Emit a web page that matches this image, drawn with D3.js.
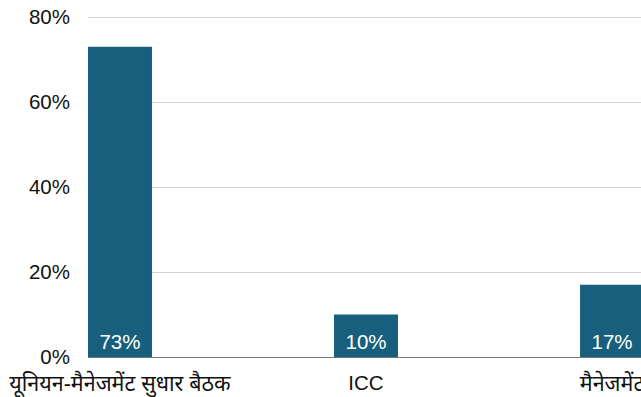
<!DOCTYPE html>
<html>
<head>
<meta charset="utf-8">
<script src="https://cdn.jsdelivr.net/npm/d3@7"></script>
<style>
  body { margin: 0; background: #fff; }
  svg { display: block; font-family: "Liberation Sans", Arial, "Noto Sans", sans-serif; }
</style>
</head>
<body>
<div id="chart"></div>
<script>
// chart values
const categories = ["यूनियन-मैनेजमेंट सुधार बैठक", "ICC", "मैनेजमेंट"];
const values = [0.73, 0.10, 0.17];
const yTicks = [0, 0.2, 0.4, 0.6, 0.8];

// size and margins
let width = 641, height = 397;
let margin = { top: 17, right: 0, bottom: 40, left: 88 };

let svg = d3.select("#chart")
    .append("svg")
    .attr("width", width)
    .attr("height", height);

// X scale, the last band runs a bit past the right edge like in the picture
let x = d3.scaleBand()
    .domain(categories)
    .range([margin.left, 644])
    .paddingInner(0.74)
    .paddingOuter(0);

// Y scale
let y = d3.scaleLinear()
    .domain([0, 0.8])
    .range([height - margin.bottom, margin.top]);

// Grid lines
svg.append("g")
    .selectAll("line")
    .data(yTicks.slice(1))
    .enter().append("line")
    .attr("x1", margin.left)
    .attr("x2", width)
    .attr("y1", d => y(d) + 0.5)
    .attr("y2", d => y(d) + 0.5)
    .attr("stroke", "#d4d4d4")
    .attr("stroke-width", 1);

// Y tick labels
svg.append("g")
    .selectAll("text")
    .data(yTicks)
    .enter().append("text")
    .attr("x", 70)
    .attr("y", d => y(d))
    .attr("dy", "0.35em")
    .attr("text-anchor", "end")
    .style("font-size", "20.5px")
    .style("fill", "#111")
    .text(d3.format(".0%"));

// Bars
svg.append("g")
    .selectAll("rect")
    .data(values)
    .enter().append("rect")
    .attr("x", (d, i) => x(categories[i]))
    .attr("y", d => y(d))
    .attr("width", x.bandwidth())
    .attr("height", d => y(0) - y(d))
    .attr("fill", "#175f7d");

// Baseline
svg.append("line")
    .attr("x1", margin.left)
    .attr("x2", width)
    .attr("y1", y(0) + 0.5)
    .attr("y2", y(0) + 0.5)
    .attr("stroke", "#777")
    .attr("stroke-width", 1);

// Value labels inside the bars
svg.append("g")
    .selectAll("text")
    .data(values)
    .enter().append("text")
    .attr("x", (d, i) => x(categories[i]) + x.bandwidth() / 2)
    .attr("y", y(0) - 15)
    .attr("dy", "0.35em")
    .attr("text-anchor", "middle")
    .style("font-size", "20.5px")
    .style("fill", "#fff")
    .text(d3.format(".0%"));

// Category labels
svg.append("g")
    .selectAll("text")
    .data(categories)
    .enter().append("text")
    .attr("x", d => x(d) + x.bandwidth() / 2)
    .attr("y", y(0) + 26)
    .attr("dy", "0.35em")
    .attr("text-anchor", "middle")
    .style("font-size", d => /[a-z]/i.test(d) ? "20.5px" : "21.5px")
    .style("fill", "#111")
    .text(d => d);
</script>
</body>
</html>
